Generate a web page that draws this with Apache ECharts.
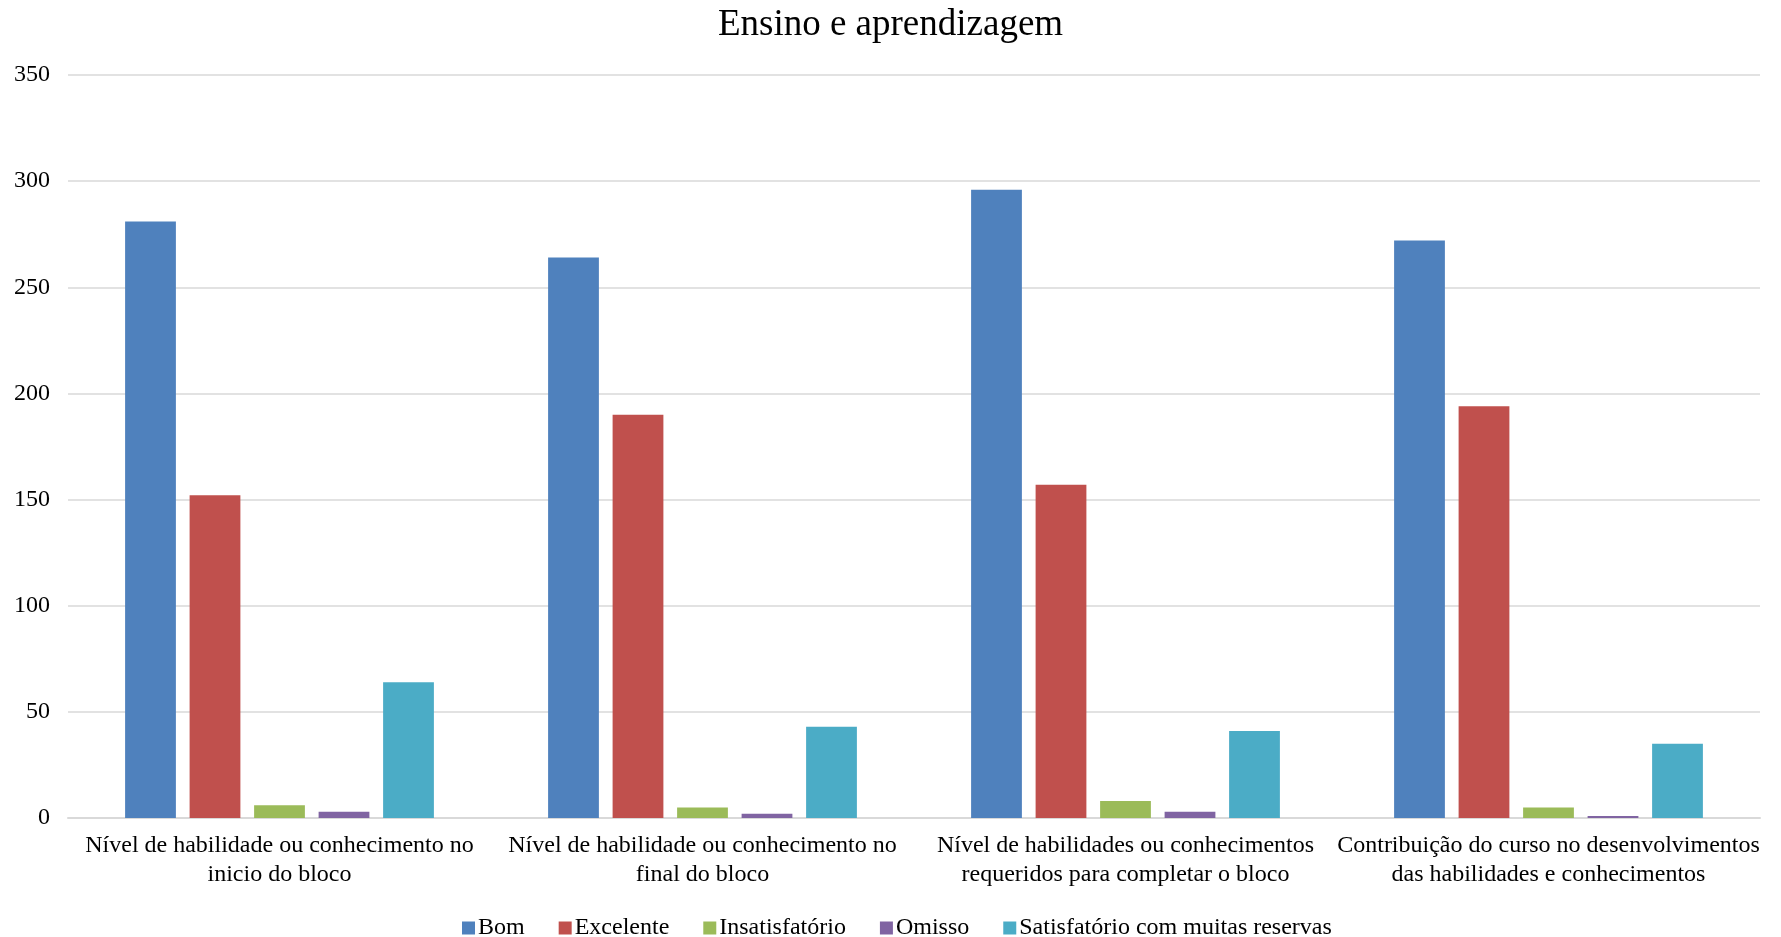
<!DOCTYPE html>
<html>
<head>
<meta charset="utf-8">
<script src="https://cdn.jsdelivr.net/npm/echarts@6/dist/echarts.min.js"></script>
<style>
html,body{margin:0;padding:0;background:#fff;}
#chart{width:1781px;height:937px;}
</style>
</head>
<body>
<div id="chart"></div>
<script>
const categories = [
  'Nível de habilidade ou conhecimento no\ninicio do bloco',
  'Nível de habilidade ou conhecimento no\nfinal do bloco',
  'Nível de habilidades ou conhecimentos\nrequeridos para completar o bloco',
  'Contribuição do curso no desenvolvimentos\ndas habilidades e conhecimentos'
];
const seriesNames = ['Bom', 'Excelente', 'Insatisfatório', 'Omisso', 'Satisfatório com muitas reservas'];
const bom = [281, 264, 296, 272];
const excelente = [152, 190, 157, 194];
const insatisfatorio = [6, 5, 8, 5];
const omisso = [3, 2, 3, 1];
const satisfatorioReservas = [64, 43, 41, 35];
const yTicks = { min: 0, max: 350, interval: 50 };
const colors = ['#4F81BD', '#C0504D', '#9BBB59', '#8064A2', '#4BACC6'];

const values = [bom, excelente, insatisfatorio, omisso, satisfatorioReservas];
const font = 'Liberation Serif, Times New Roman, serif';

const chart = echarts.init(document.getElementById('chart'));
chart.setOption({
  animation: false,
  color: colors,
  title: {
    text: 'Ensino e aprendizagem',
    left: 'center',
    top: 2,
    textStyle: { fontFamily: font, fontSize: 37, fontWeight: 'normal', color: '#000' }
  },
  legend: {
    data: seriesNames,
    left: 457,
    top: 911,
    itemWidth: 13,
    itemHeight: 13,
    itemGap: 34,
    icon: 'rect',
    textStyle: { fontFamily: font, fontSize: 24, color: '#000', padding: [0, 0, 0, -2] }
  },
  grid: { left: 68, right: 21, top: 75, bottom: 119, containLabel: false },
  xAxis: {
    type: 'category',
    data: categories,
    axisTick: { show: false },
    axisLine: { lineStyle: { color: '#D9D9D9', width: 2 } },
    axisLabel: {
      interval: 0,
      margin: 13,
      fontFamily: font,
      fontSize: 24,
      lineHeight: 29,
      color: '#000'
    }
  },
  yAxis: {
    type: 'value',
    min: yTicks.min,
    max: yTicks.max,
    interval: yTicks.interval,
    axisLine: { show: false },
    axisTick: { show: false },
    splitLine: { lineStyle: { color: '#D9D9D9', width: 1.5 } },
    axisLabel: { margin: 18, fontFamily: font, fontSize: 24, color: '#000' }
  },
  series: seriesNames.map((name, i) => ({
    name: name,
    type: 'bar',
    data: values[i],
    barGap: '27%',
    barCategoryGap: '27%',
    barMinHeight: 2,
    itemStyle: { color: colors[i] }
  }))
});
</script>
</body>
</html>
